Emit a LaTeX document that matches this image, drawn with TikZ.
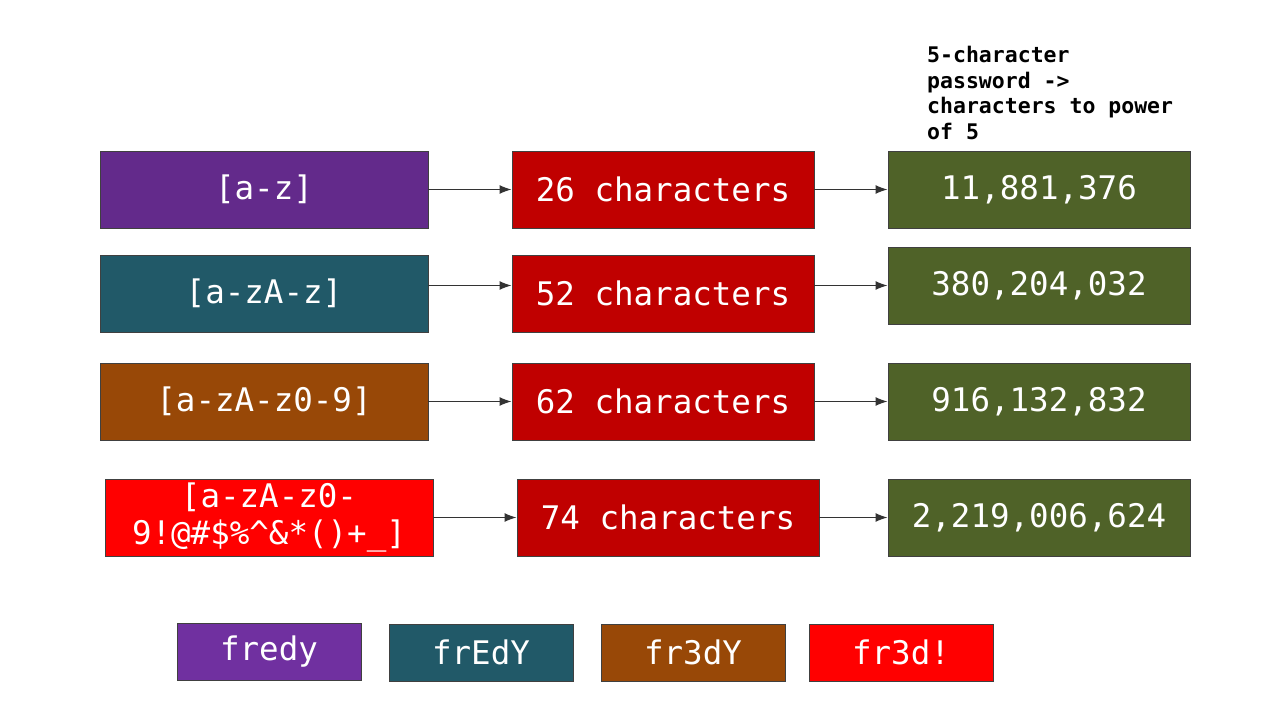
\documentclass[tikz,border=0pt]{standalone}
\usepackage{fontspec}
\setmonofont{DejaVu Sans Mono}
\usetikzlibrary{arrows.meta}
\definecolor{cpurple}{HTML}{632A8B}
\definecolor{cpurpleb}{HTML}{7030A0}
\definecolor{cteal}{HTML}{215968}
\definecolor{cbrown}{HTML}{984807}
\definecolor{cred}{HTML}{FF0000}
\definecolor{cdred}{HTML}{C00000}
\definecolor{colive}{HTML}{4F6228}
\tikzset{
  box/.style={draw=black!75, line width=0.9pt, text=white, inner sep=0pt,
    font=\ttfamily\fontsize{32.5}{37}\selectfont, align=center},
  leftbox/.style={box, minimum width=328pt, minimum height=77pt},
  midbox/.style={box, fill=cdred, minimum width=302pt, minimum height=77pt},
  rightbox/.style={box, fill=colive, minimum width=302pt, minimum height=77pt},
  smallbox/.style={box, minimum width=184pt, minimum height=57pt},
  arr/.style={draw=black!80, line width=1.3pt, -{Latex[length=12pt,width=9pt]}},
}
\begin{document}
\begin{tikzpicture}[x=1pt,y=-1pt]
\useasboundingbox (0,0) rectangle (1280,720);
% left column
\node[leftbox, fill=cpurple] (l1) at (264,189.5) {[a-z]};
\node[leftbox, fill=cteal] (l2) at (264,293.5) {[a-zA-z]};
\node[leftbox, fill=cbrown] (l3) at (264,401.5) {[a-zA-z0-9]};
\node[leftbox, fill=cred] (l4) at (269,517.5) {[a-zA-z0-\\9!@\#\$\%\textasciicircum\&*()+\_]};
% middle column
\node[midbox] (m1) at (663,189.5) {26 characters};
\node[midbox] (m2) at (663,293.5) {52 characters};
\node[midbox] (m3) at (663,401.5) {62 characters};
\node[midbox] (m4) at (668,517.5) {74 characters};
% right column
\node[rightbox] (r1) at (1039,189.5) {11,881,376};
\node[rightbox] (r2) at (1039,285.5) {380,204,032};
\node[rightbox] (r3) at (1039,401.5) {916,132,832};
\node[rightbox] (r4) at (1039,517.5) {2,219,006,624};
% header text
\node[anchor=north west, inner sep=0pt, align=left,
  font=\ttfamily\bfseries\fontsize{21.5}{25.7}\selectfont] (hdr) at (927,46)
  {5-character\\password ->\\characters to power\\of 5};
% arrows
\draw[arr] (l1.east) -- (m1.west);
\draw[arr] (m1.east) -- (r1.west);
\draw[arr] (l2.east |- r2.west) -- (m2.west |- r2.west);
\draw[arr] (m2.east |- r2.west) -- (r2.west);
\draw[arr] (l3.east) -- (m3.west);
\draw[arr] (m3.east) -- (r3.west);
\draw[arr] (l4.east) -- (m4.west);
\draw[arr] (m4.east) -- (r4.west);
% bottom examples
\node[smallbox, fill=cpurpleb] (b1) at (269,651.5) {fredy};
\node[smallbox, fill=cteal] (b2) at (481,652.5) {frEdY};
\node[smallbox, fill=cbrown] (b3) at (693,652.5) {fr3dY};
\node[smallbox, fill=cred] (b4) at (901,652.5) {fr3d!};
\end{tikzpicture}
\end{document}
